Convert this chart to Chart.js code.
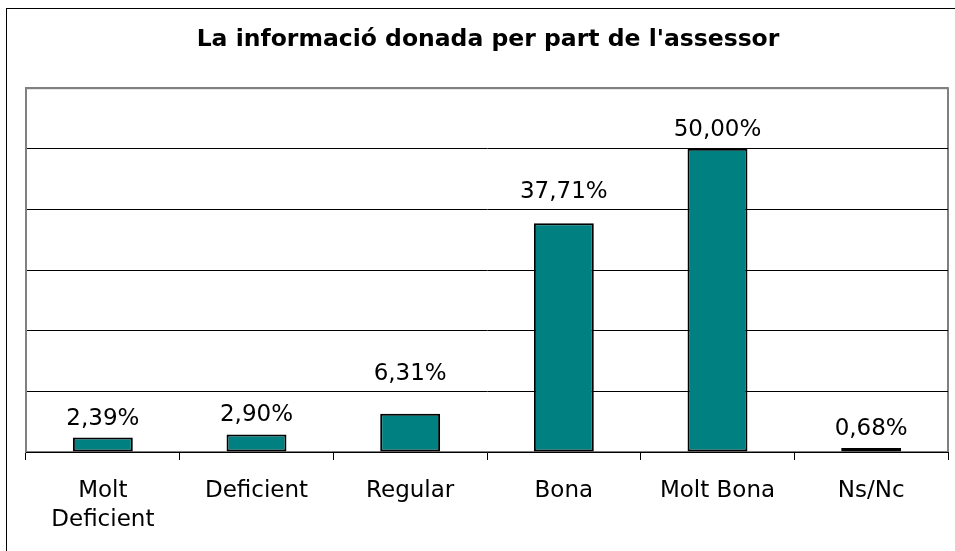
<!DOCTYPE html>
<html>
<head>
<meta charset="utf-8">
<script src="https://cdn.jsdelivr.net/npm/chart.js@4/dist/chart.umd.min.js"></script>
<style>
    html, body { margin: 0; padding: 0; background: #fff; overflow: hidden; width: 955px; height: 551px; }
    #frame { position: absolute; left: 6px; top: 8px; width: 962px; height: 560px; border: 1px solid #000; }
</style>
</head>
<body>
<div id="frame"><canvas id="myChart" width="962" height="560"></canvas></div>
<script>
    // categories and values (%)
    const categories = [['Molt', 'Deficient'], 'Deficient', 'Regular', 'Bona', 'Molt Bona', 'Ns/Nc'];
    const percentages = [2.39, 2.90, 6.31, 37.71, 50.00, 0.68];
    const titleText = "La informació donada per part de l'assessor";

    const labelFont = { family: 'DejaVu Sans', size: 23 };

    // marc gris del plot
    const plotFrame = {
        id: 'plotFrame',
        beforeDraw(chart) {
            const a = chart.chartArea;
            const c = chart.ctx;
            c.save();
            c.strokeStyle = '#808080';
            c.lineWidth = 2;
            c.strokeRect(a.left, a.top, a.right - a.left, a.bottom - a.top);
            c.restore();
        }
    };

    // etiquetes de valor sobre les barres (es pugen si toquen una linia de la graella)
    const valueLabels = {
        id: 'valueLabels',
        afterDatasetsDraw(chart) {
            const c = chart.ctx;
            const meta = chart.getDatasetMeta(0);
            const yScale = chart.scales.y;
            const gridYs = yScale.ticks.map(t => yScale.getPixelForValue(t.value));
            c.save();
            c.font = labelFont.size + 'px ' + labelFont.family;
            c.fillStyle = '#000';
            c.textAlign = 'center';
            c.textBaseline = 'alphabetic';
            meta.data.forEach((bar, i) => {
                const txt = percentages[i].toFixed(2).replace('.', ',') + '%';
                let base = bar.y - 13;
                const hit = gridYs.find(gy => gy > base - 20 && gy < base + 3);
                if (hit !== undefined) base = hit - 11;
                c.fillText(txt, bar.x, base);
            });
            c.restore();
        }
    };

    new Chart(document.getElementById('myChart'), {
        type: 'bar',
        data: {
            labels: categories,
            datasets: [{
                data: percentages,
                backgroundColor: '#008080',
                borderColor: '#000',
                borderWidth: 2,
                borderSkipped: false,
                categoryPercentage: 1,
                barPercentage: 0.39
            }]
        },
        options: {
            responsive: false,
            animation: false,
            layout: { padding: 0 },
            scales: {
                y: {
                    min: 0,
                    max: 60,
                    ticks: { stepSize: 10, display: false },
                    grid: {
                        drawTicks: false,
                        color: ctx => ctx.tick.value === 60 ? '#808080' : (ctx.tick.value === 0 ? 'rgba(0,0,0,0)' : '#000'),
                        lineWidth: ctx => ctx.tick.value === 60 ? 2 : 1
                    },
                    border: { display: true, color: '#808080', width: 2 },
                    afterFit(scale) { scale.width = 19; }
                },
                // marge dret buit (per centrar el titol com l'original)
                marge: {
                    type: 'linear',
                    position: 'right',
                    ticks: { display: false },
                    grid: { display: false },
                    border: { display: false },
                    afterFit(scale) { scale.width = 21; }
                },
                x: {
                    grid: {
                        offset: true,
                        drawOnChartArea: false,
                        drawTicks: true,
                        tickLength: 8,
                        color: '#000'
                    },
                    border: { display: true, color: '#000', width: 1 },
                    ticks: {
                        color: '#000',
                        font: { family: labelFont.family, size: labelFont.size, lineHeight: 1.26 },
                        padding: 17,
                        maxRotation: 0,
                        autoSkip: false
                    },
                    afterFit(scale) { scale.height = 117; }
                }
            },
            plugins: {
                legend: { display: false },
                tooltip: { enabled: false },
                title: {
                    display: true,
                    text: titleText,
                    color: '#000',
                    font: { family: 'DejaVu Sans', size: 23.5, weight: 'bold', lineHeight: 1.2 },
                    padding: { top: 17, bottom: 34 }
                }
            }
        },
        plugins: [plotFrame, valueLabels]
    });
</script>
</body>
</html>
